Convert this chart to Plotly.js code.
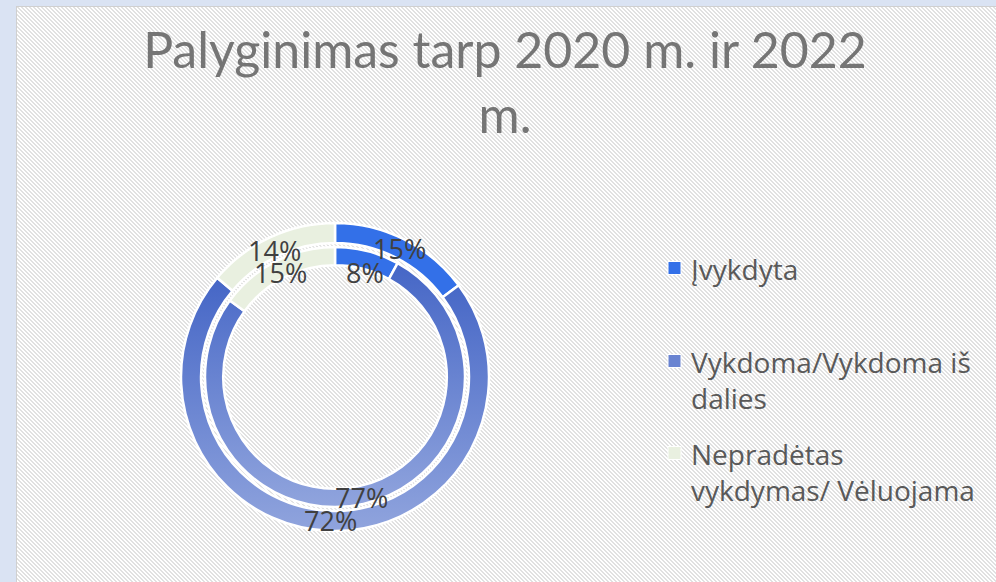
<!DOCTYPE html>
<html>
<head>
<meta charset="utf-8">
<script src="https://cdn.plot.ly/plotly-3.0.1.min.js"></script>
<style>
  html, body { margin: 0; padding: 0; width: 996px; height: 582px; overflow: hidden; background: #dae3f3; }
  #bg { position: absolute; left: 16px; top: 6px; width: 980px; height: 576px;
        border-left: 1px solid #d0d0d0; border-top: 1px solid #d0d0d0; box-sizing: border-box;
        background-color: #ffffff;
        background-image: url("data:image/svg+xml;utf8,<svg xmlns='http://www.w3.org/2000/svg' width='4' height='4' shape-rendering='crispEdges'><rect width='4' height='4' fill='%23ffffff'/><rect x='0' y='0' width='2' height='1' fill='%23e1e1e1'/><rect x='1' y='1' width='2' height='1' fill='%23e1e1e1'/><rect x='2' y='2' width='2' height='1' fill='%23e1e1e1'/><rect x='3' y='3' width='1' height='1' fill='%23e1e1e1'/><rect x='0' y='3' width='1' height='1' fill='%23e1e1e1'/></svg>");
        background-size: 4px 4px; }
  #chart { position: absolute; left: 0; top: 0; width: 996px; height: 582px; }
</style>
</head>
<body>
<div id="bg"></div>
<div id="chart"></div>
<script>
// ---- data ----
const categories = ['Įvykdyta', 'Vykdoma/Vykdoma iš dalies', 'Nepradėtas vykdymas/ Vėluojama'];
const legendLabels = ['Įvykdyta', 'Vykdoma/Vykdoma iš<br>dalies', 'Nepradėtas<br>vykdymas/ Vėluojama'];
const outerValues = [15, 72, 14];   // percentages, outer ring
const innerValues = [8, 77, 15];    // percentages, inner ring

// ---- geometry (pixels in a 996x582 page) ----
const W = 996, H = 582;
const cx = 335, cy = 377;
const rOuter = 154, rInner = 130;
const holeOuter = 0.87, holeInner = 0.86;
const colors = ['#3370e8', '#6a84d1', '#e9f0e0'];

function domainFor(r) {
  return { x: [(cx - r) / W, (cx + r) / W], y: [1 - (cy + r) / H, 1 - (cy - r) / H] };
}

const traceOuter = {
  type: 'pie', values: outerValues, labels: categories, sort: false, direction: 'clockwise', rotation: 0,
  hole: holeOuter, domain: domainFor(rOuter), textinfo: 'none', showlegend: false,
  marker: { colors: colors, line: { color: '#ffffff', width: 2.5 } }, hoverinfo: 'label+percent'
};
const traceInner = {
  type: 'pie', values: innerValues, labels: categories, sort: false, direction: 'clockwise', rotation: 0,
  hole: holeInner, domain: domainFor(rInner), textinfo: 'none', showlegend: false,
  marker: { colors: colors, line: { color: '#ffffff', width: 2.5 } }, hoverinfo: 'label+percent'
};

// percent labels placed at the middle of each slice, derived from the values
function sliceLabels(values, r, hole, shifts) {
  const total = values.reduce((a, b) => a + b, 0);
  const rm = r * (1 + hole) / 2;
  let cum = 0;
  return values.map((v, i) => {
    const th = 2 * Math.PI * (cum + v / 2) / total;
    cum += v;
    return {
      x: (cx + rm * Math.sin(th)) / W, y: 1 - (cy - rm * Math.cos(th)) / H,
      xref: 'paper', yref: 'paper', showarrow: false,
      text: v + '%', yshift: shifts[i],
      font: { family: 'Open Sans, sans-serif', size: 27, color: '#404040' },
      xanchor: 'center', yanchor: 'middle'
    };
  });
}

// small collision nudges for the inner ring labels (like the original's label layout)
const annotations = [].concat(
  sliceLabels(outerValues, rOuter, holeOuter, [0, 0, -4]),
  sliceLabels(innerValues, rInner, holeInner, [-13, -3, -3])
);

// legend (manual, for the wide item spacing)
const legY = [268, 361, 453];
const shapes = [];
legendLabels.forEach((lab, i) => {
  annotations.push({
    x: 689 / W, y: 1 - (legY[i] - 20) / H, xref: 'paper', yref: 'paper', showarrow: false,
    text: lab, align: 'left', xanchor: 'left', yanchor: 'top',
    font: { family: 'Open Sans, sans-serif', size: 28, color: '#595959' }
  });
  shapes.push({
    type: 'rect', xref: 'paper', yref: 'paper',
    x0: 668 / W, x1: 681 / W, y0: 1 - (legY[i] + 6.5) / H, y1: 1 - (legY[i] - 6.5) / H,
    fillcolor: colors[i], line: { color: '#ffffff', width: 1 }
  });
});

const layout = {
  width: W, height: H,
  margin: { l: 0, r: 0, t: 0, b: 0 },
  paper_bgcolor: 'rgba(0,0,0,0)', plot_bgcolor: 'rgba(0,0,0,0)',
  title: {
    text: 'Palyginimas tarp 2020 m. ir 2022<br>m.',
    x: 505 / W, xanchor: 'center', y: 1 - 68 / H, yanchor: 'top', yref: 'container',
    font: { family: 'Lato, sans-serif', size: 50, color: '#757575', weight: 400 }
  },
  showlegend: false,
  annotations: annotations,
  shapes: shapes
};

Plotly.newPlot('chart', [traceOuter, traceInner], layout, { displayModeBar: false, staticPlot: true }).then(gd => {
  // vertical gradient on the "Vykdoma" slices, as in the reference
  const svg = gd.querySelector('svg.main-svg');
  const ns = 'http://www.w3.org/2000/svg';
  let defs = svg.querySelector('defs');
  if (!defs) { defs = document.createElementNS(ns, 'defs'); svg.insertBefore(defs, svg.firstChild); }
  const g = document.createElementNS(ns, 'linearGradient');
  g.setAttribute('id', 'gradV'); g.setAttribute('x1', '0'); g.setAttribute('y1', '0'); g.setAttribute('x2', '0'); g.setAttribute('y2', '1');
  [['0', '#4566c6'], ['1', '#90a4dd']].forEach(([o, c]) => {
    const s = document.createElementNS(ns, 'stop'); s.setAttribute('offset', o); s.setAttribute('stop-color', c); g.appendChild(s);
  });
  defs.appendChild(g);
  gd.querySelectorAll('g.slice').forEach(sl => {
    const p = sl.querySelector('path.surface');
    if (p && p.style.fill && p.style.fill.replace(/\s/g, '') === 'rgb(106,132,209)') p.style.fill = 'url(#gradV)';
  });
});
</script>
</body>
</html>
